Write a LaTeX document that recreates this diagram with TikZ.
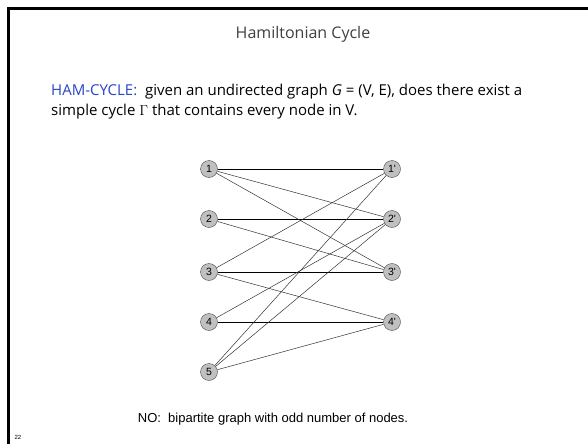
\documentclass[tikz,border=0pt]{standalone}
\usepackage{fontspec}
\setmainfont{Open Sans}
\newfontfamily\arialfont{Liberation Sans}
\usetikzlibrary{math}
\definecolor{myblue}{RGB}{40,70,200}
\definecolor{mygray}{RGB}{192,192,192}
\definecolor{mytitle}{RGB}{64,64,64}

\begin{document}
\begin{tikzpicture}[x=1pt,y=-1pt,
  vert/.style={circle,draw=black!70,fill=mygray,inner sep=0pt,minimum size=17pt,
    font=\arialfont\fontsize{10.5}{10.5}\selectfont},
  hedge/.style={line width=0.9pt},
  dedge/.style={line width=0.5pt,color=black!80}]
\tikzmath{
\xl=209;
\xr=392;
}
\useasboundingbox (0,0) rectangle (588,444);
\fill[white] (0,0) rectangle (588,444);
\draw[line width=3pt] (8.5,444) -- (8.5,8.5) -- (588,8.5);

% texts
\node[text=mytitle,font=\fontsize{16}{18}\selectfont] (title) at (303,34) {Hamiltonian Cycle};
\node[anchor=base west,inner sep=0pt,font=\fontsize{15}{17}\selectfont] (def1) at (51,95)
  {\textcolor{myblue}{HAM-CYCLE:}\ \ given an undirected graph \textit{G} = (V, E), does there exist a};
\node[anchor=base west,inner sep=0pt,font=\fontsize{15}{17}\selectfont] (def2) at (51,115)
  {simple cycle $\Gamma$ that contains every node in V.};
\node[font=\arialfont\fontsize{13}{15}\selectfont] (no) at (273,419) {NO:\ \ bipartite graph with odd number of nodes.};
\node[font=\arialfont\fontsize{6}{7}\selectfont] (pg) at (18,437) {22};

% left side
\node[vert] (n1) at (\xl,169) {1};
\node[vert] (n2) at (\xl,219) {2};
\node[vert] (n3) at (\xl,272) {3};
\node[vert] (n4) at (\xl,322) {4};
\node[vert] (n5) at (\xl,372) {5};
% right side
\node[vert] (m1) at (\xr,169) {1'};
\node[vert] (m2) at (\xr,219) {2'};
\node[vert] (m3) at (\xr,272) {3'};
\node[vert] (m4) at (\xr,322) {4'};

\draw[hedge] (n1) -- (m1);
\draw[hedge] (n2) -- (m2);
\draw[hedge] (n3) -- (m3);
\draw[hedge] (n4) -- (m4);

\draw[dedge] (n1) -- (m2);
\draw[dedge] (n1) -- (m3);
\draw[dedge] (n2) -- (m3);
\draw[dedge] (n3) -- (m1);
\draw[dedge] (n3) -- (m4);
\draw[dedge] (n4) -- (m2);
\draw[dedge] (n5) -- (m1);
\draw[dedge] (n5) -- (m2);
\draw[dedge] (n5) -- (m4);
\end{tikzpicture}
\end{document}
